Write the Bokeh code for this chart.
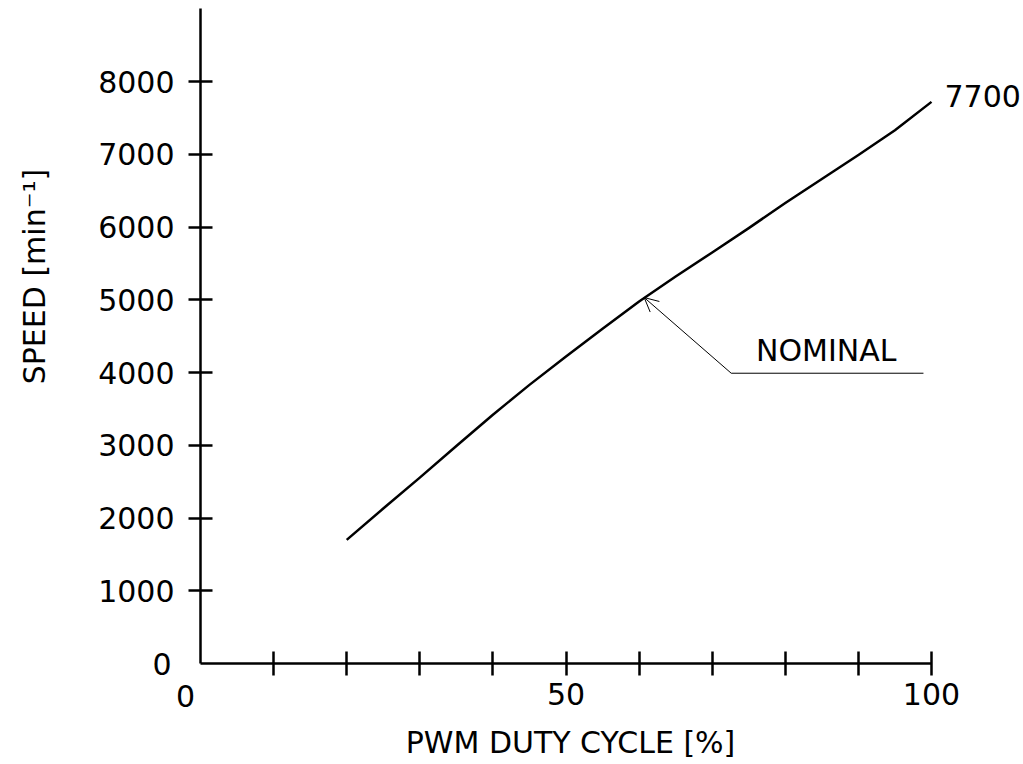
import math
from bokeh.plotting import figure
from bokeh.models import FixedTicker, Label, Arrow, OpenHead, Range1d
from bokeh.embed import file_html
from bokeh.resources import INLINE

# ---- data ----
duty = [20, 25, 30, 35, 40, 45, 50, 55, 60, 65, 70, 75, 80, 85, 90, 95, 100]
speed = [1700, 2130, 2555, 2990, 3420, 3830, 4220, 4600, 4975, 5320, 5650, 5985, 6330, 6660, 6990, 7330, 7720]
x_major = [50, 100]
x_minor = [10, 20, 30, 40, 60, 70, 80, 90]
y_ticks = [1000, 2000, 3000, 4000, 5000, 6000, 7000, 8000]
x_axis_max = 100
y_axis_max = 9000
end_label = "7700"
nominal_text = "NOMINAL"
nominal_point = (60.7, 5030)
nominal_knee = (72.6, 3990)
nominal_end_x = 98.9
x_title = "PWM DUTY CYCLE [%]"
y_title = "SPEED [min\u207b\u00b9]"

FONT = "DejaVu Sans"
FS = "30px"

W, H = 1020, 760
X0_PX, Y0_PX = 200, 663          # pixel of data origin
SX = 7.31                        # px per % duty
SY = 0.07275                     # px per min^-1


def dx(px):
    return px / SX


def dy(px):
    return px / SY


p = figure(width=W, height=H, output_backend="svg", toolbar_location=None,
           x_range=Range1d(-X0_PX / SX, (W - X0_PX) / SX),
           y_range=Range1d(-(H - Y0_PX) / SY, Y0_PX / SY),
           min_border_left=0, min_border_right=0, min_border_top=0, min_border_bottom=0)
p.outline_line_color = None
p.xgrid.visible = False
p.ygrid.visible = False
p.background_fill_color = "white"

for ax in (p.xaxis[0], p.yaxis[0]):
    ax.fixed_location = 0
    ax.axis_line_width = 2.5
    ax.axis_line_color = "black"
    ax.major_tick_line_width = 2.5
    ax.minor_tick_line_width = 2.5
    ax.major_tick_line_color = "black"
    ax.minor_tick_line_color = "black"
    ax.major_tick_in = 12
    ax.major_tick_out = 12
    ax.major_label_text_font = FONT
    ax.major_label_text_font_size = FS
    ax.major_label_text_color = "black"

p.xaxis[0].bounds = (0, x_axis_max)
p.xaxis[0].ticker = FixedTicker(ticks=x_major, minor_ticks=x_minor)
p.xaxis[0].minor_tick_in = 12
p.xaxis[0].minor_tick_out = 12
p.xaxis[0].major_label_standoff = 7

p.yaxis[0].bounds = (0, y_axis_max)
p.yaxis[0].ticker = FixedTicker(ticks=y_ticks, minor_ticks=[])
p.yaxis[0].minor_tick_in = 0
p.yaxis[0].minor_tick_out = 0
p.yaxis[0].major_label_standoff = 14

# curve
p.line(duty, speed, line_width=2.5, line_color="black", line_join="round")


def lab(x, y, text, align, baseline, angle=0.0):
    p.add_layout(Label(x=x, y=y, text=text, text_font=FONT, text_font_size=FS,
                       text_color="black", text_align=align, text_baseline=baseline,
                       angle=angle))


# origin labels
lab(-dx(15), -dy(32), "0", "center", "alphabetic")
lab(-dx(29), 0, "0", "right", "middle")

# end value label
lab(duty[-1] + dx(13), speed[-1] + dy(6), end_label, "left", "alphabetic")

# nominal annotation
p.add_layout(Arrow(end=OpenHead(size=14, line_width=1, line_color="black"),
                   x_start=nominal_knee[0], y_start=nominal_knee[1],
                   x_end=nominal_point[0], y_end=nominal_point[1],
                   line_width=1, line_color="black"))
p.line([nominal_knee[0], nominal_end_x], [nominal_knee[1], nominal_knee[1]],
       line_width=1, line_color="black")
lab(nominal_knee[0] + dx(95), nominal_knee[1] + dy(23), nominal_text, "center", "alphabetic")

# axis titles
lab(dx(370), -dy(79), x_title, "center", "alphabetic")
lab(-dx(166), dy(387), y_title, "center", "middle", angle=math.pi / 2)

open("out.html", "w").write(file_html(p, INLINE))
